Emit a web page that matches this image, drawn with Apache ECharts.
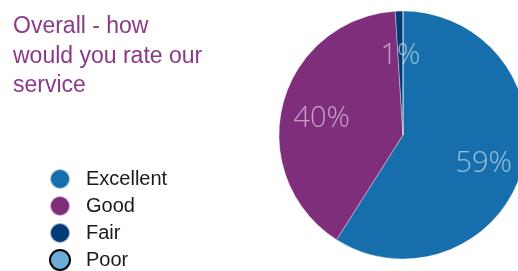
<!DOCTYPE html>
<html lang="en">
<head>
    <meta charset="UTF-8">
    <title>Overall - how would you rate our service</title>
    <script src="https://cdn.jsdelivr.net/npm/echarts/dist/echarts.min.js"></script>
    <style>
        html, body { margin: 0; padding: 0; background: #fff; }
        #chart { width: 518px; height: 271px; }
    </style>
</head>
<body>
<div id="chart"></div>
<script>
    // data
    var categories = ['Excellent', 'Good', 'Fair', 'Poor'];
    var values = [59, 40, 1, 0];
    var colors = ['#176eac', '#7f2e7b', '#033b79', '#6aabd8'];

    var chart = echarts.init(document.getElementById('chart'));

    var pieData = categories.map(function (name, i) {
        return { name: name, value: values[i], itemStyle: { color: colors[i] } };
    });

    var legendData = categories.map(function (name, i) {
        var item = { name: name, itemStyle: { color: colors[i] } };
        if (name === 'Poor') {
            item.itemStyle.borderColor = '#000';
            item.itemStyle.borderWidth = 2;
        }
        return item;
    });

    var option = {
        animation: false,
        title: {
            text: 'Overall - how\nwould you rate our\nservice',
            left: 8,
            top: 7,
            textStyle: {
                color: '#8a3a88',
                fontFamily: 'Liberation Sans',
                fontWeight: 'normal',
                fontSize: 23,
                lineHeight: 29.5
            }
        },
        legend: {
            orient: 'vertical',
            left: 49,
            top: 168,
            height: 140,
            padding: 0,
            icon: 'circle',
            itemWidth: 20,
            itemHeight: 20,
            itemGap: 5,
            data: legendData,
            selectedMode: false,
            textStyle: {
                color: '#1a1a1a',
                fontFamily: 'Liberation Sans',
                fontSize: 20,
                lineHeight: 20,
                padding: [0, 0, 0, 11]
            }
        },
        series: [
            {
                type: 'pie',
                center: [403, 135],
                radius: [0, 124],
                startAngle: 90,
                clockwise: true,
                silent: true,
                label: { show: false },
                labelLine: { show: false },
                itemStyle: { borderColor: 'rgba(255,255,255,0.6)', borderWidth: 0.6 },
                data: pieData
            },
            {
                // transparent overlay carrying the labels further out
                type: 'pie',
                center: [403, 135],
                radius: [38, 124],
                startAngle: 90,
                clockwise: true,
                silent: true,
                itemStyle: { color: 'transparent' },
                label: {
                    show: true,
                    position: 'inside',
                    offset: [0, 5],
                    formatter: function (p) { return p.value > 0 ? p.value + '%' : ''; },
                    color: 'rgba(255,255,255,0.55)',
                    fontFamily: 'Open Sans',
                    fontWeight: 300,
                    fontSize: 29
                },
                labelLine: { show: false },
                data: categories.map(function (name, i) {
                    return { name: name, value: values[i] };
                })
            }
        ]
    };

    chart.setOption(option);
</script>
</body>
</html>
